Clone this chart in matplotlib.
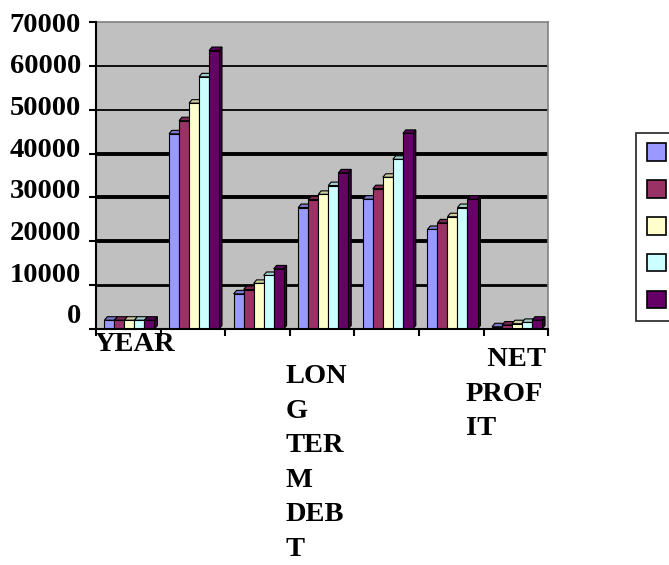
import matplotlib.pyplot as plt
import matplotlib.colors as mcolors
from matplotlib.patches import Polygon, Patch
from matplotlib.transforms import blended_transform_factory, ScaledTranslation

# category labels (only three are shown under the axis)
categories = ["YEAR", "", "", "LONG\nTERM\nDEBT", "", "", "NET\nPROFIT"]

# one list per series, one value per category
s1 = [2001, 44500, 8000, 27700, 29600, 22700, 500]
s2 = [2002, 47500, 9000, 29500, 32000, 24200, 900]
s3 = [2003, 51500, 10400, 30700, 34600, 25600, 1200]
s4 = [2004, 57500, 12200, 32700, 38700, 27700, 1500]
s5 = [2005, 63500, 13700, 35600, 44600, 29600, 2000]
series = [s1, s2, s3, s4, s5]

colors = ["#9999FF", "#993366", "#FFFFCC", "#CCFFFF", "#660066"]
yticks = [0, 10000, 20000, 30000, 40000, 50000, 60000, 70000]
grid_widths = [0, 2.0, 2.8, 2.8, 2.8, 1.3, 1.3, 0]

font = "Liberation Serif"
fsize = 20.5

fig = plt.figure(figsize=(6.69, 5.65), dpi=100)
ax = fig.add_axes([0.1435, 0.4177, 0.8195 - 0.1435, 0.961 - 0.4177])
ax.set_facecolor("#C0C0C0")
ax.set_xlim(0, len(categories))
ax.set_ylim(0, 70000)

# horizontal grid lines of varying weight
for v, w in zip(yticks, grid_widths):
    if w > 0:
        ax.axhline(v, color="black", lw=w, zorder=1)

# 3-D looking clustered bars
bw = 0.155
start = 0.13
dx = 0.045
dy = 800


def shade(c, f):
    r, g, b = mcolors.to_rgb(c)
    return (r * f, g * f, b * f)


for i in range(len(categories)):
    for k, vals in enumerate(series):
        x0 = i + start + k * bw
        h = vals[i]
        z = 2 + i * 10 + k
        col = colors[k]
        ax.add_patch(Polygon([(x0 + bw, 0), (x0 + bw + dx, dy), (x0 + bw + dx, h + dy), (x0 + bw, h)],
                             closed=True, facecolor=shade(col, 0.55), edgecolor="black", lw=0.8, zorder=z))
        ax.add_patch(Polygon([(x0, h), (x0 + dx, h + dy), (x0 + bw + dx, h + dy), (x0 + bw, h)],
                             closed=True, facecolor=shade(col, 0.8), edgecolor="black", lw=0.8, zorder=z))
        ax.bar(x0, h, width=bw, align="edge", color=col, edgecolor="black", lw=0.8, zorder=z)

# axes frame
for side in ["top", "right"]:
    ax.spines[side].set_color("#808080")
    ax.spines[side].set_linewidth(1.2)
for side in ["left", "bottom"]:
    ax.spines[side].set_color("black")
    ax.spines[side].set_linewidth(1.5)
    ax.spines[side].set_zorder(200)

ax.set_yticks(yticks)
ax.set_yticklabels([str(v) for v in yticks], fontname=font, fontweight="bold", fontsize=fsize)
ax.tick_params(axis="y", direction="out", length=5, width=1.5, pad=5.8)
# the lower value labels sit a little above their tick
for v, lab in zip(yticks, ax.get_yticklabels()):
    shift = (70000 - v) / 70000 * 15 / 100
    lab.set_transform(lab.get_transform() + ScaledTranslation(0, shift, fig.dpi_scale_trans))

ax.set_xticks(range(len(categories) + 1))
ax.set_xticklabels([])
ax.tick_params(axis="x", direction="out", length=5, width=1.5)

# category labels under the axis
trans = blended_transform_factory(ax.transData, ax.transAxes)
lab_kw = dict(transform=trans, fontname=font, fontweight="bold", fontsize=fsize,
              va="top", ha="left", linespacing=1.5, clip_on=False)
ax.text(-0.02, -0.01, "YEAR", **lab_kw)
ax.text(2.93, -0.115, "LON\nG\nTER\nM\nDEB\nT", **lab_kw)
ax.text(5.72, -0.06, "   NET\nPROF\nIT", **lab_kw)

# legend box (labels fall outside the figure edge)
handles = [Patch(facecolor=c, edgecolor="black", lw=1.2) for c in colors]
leg = fig.legend(handles, [" "] * 5, loc="upper left", bbox_to_anchor=(0.951, 0.765),
                 bbox_transform=fig.transFigure, prop={"size": 14}, handlelength=1.0,
                 handleheight=1.0, labelspacing=0.9, borderpad=0.55, frameon=True,
                 fancybox=False, borderaxespad=0)
leg.get_frame().set_edgecolor("black")
leg.get_frame().set_linewidth(1.3)

fig.savefig("out.png", dpi=100)
plt.close(fig)
